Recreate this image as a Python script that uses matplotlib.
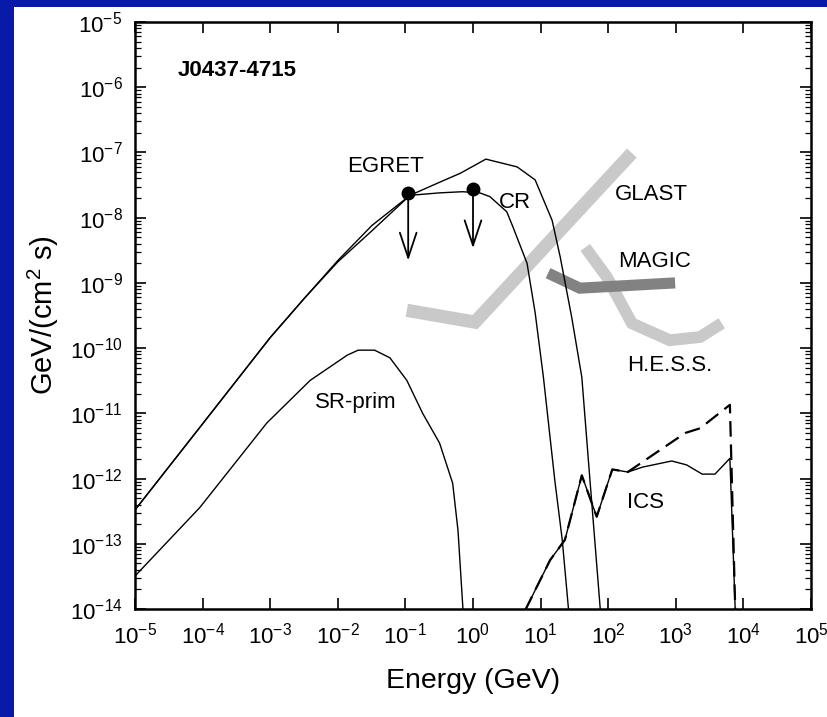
import numpy as np
import matplotlib
matplotlib.use("Agg")
import matplotlib.pyplot as plt
from matplotlib.patches import Rectangle
from matplotlib.ticker import NullLocator, FixedLocator

plt.rcParams['font.family'] = ['Liberation Sans', 'DejaVu Sans']
plt.rcParams['mathtext.fontset'] = 'custom'
plt.rcParams['mathtext.rm'] = 'Liberation Sans'
plt.rcParams['mathtext.it'] = 'Liberation Sans:italic'
plt.rcParams['mathtext.bf'] = 'Liberation Sans:bold'

# ---------------- data (GeV, GeV cm^-2 s^-1) ----------------
cr_E = [1e-5, 1e-4, 1e-3, 3.2e-3, 1e-2, 3.2e-2, 0.117, 0.32, 0.7, 1.26, 1.78,
        3.16, 3.9, 6.3, 8.3, 11.0, 16.2, 20.9, 25.7, 27.0]
cr_F = [3.3e-13, 6.9e-12, 1.45e-10, 5.8e-10, 2.2e-9, 7.6e-9, 2.2e-8, 2.4e-8,
        2.5e-8, 2.4e-8, 2.1e-8, 1.23e-8, 7.2e-9, 2.0e-9, 3.5e-10, 3.6e-11,
        9.5e-13, 1.15e-13, 1.07e-14, 5e-15]

tot_E = [1e-5, 1e-4, 1e-3, 3.2e-3, 1e-2, 3.2e-2, 0.117, 0.316, 0.65, 1.55, 4.5,
         8.3, 14.8, 19.5, 28.8, 40.7, 53.7, 75.9, 80.0]
tot_F = [3.3e-13, 6.9e-12, 1.45e-10, 5.8e-10, 2.1e-9, 6.3e-9, 2.2e-8, 3.47e-8,
         4.8e-8, 7.9e-8, 6.0e-8, 3.8e-8, 9.1e-9, 2.5e-9, 3.0e-10, 3.6e-11,
         9.5e-13, 1.07e-14, 5e-15]

srp_E = [1e-5, 9.1e-5, 8.9e-4, 3.9e-3, 1.38e-2, 2.0e-2, 3.5e-2, 5.9e-2, 0.105,
         0.18, 0.32, 0.5, 0.6, 0.71]
srp_F = [3.2e-14, 3.6e-13, 7.1e-12, 3.2e-11, 7.8e-11, 9.3e-11, 9.3e-11, 7.1e-11,
         3.2e-11, 1.0e-11, 3.5e-12, 8.5e-13, 1.6e-13, 1.0e-14]

ics_E = [5.9, 13.8, 22.9, 40.7, 67.6, 115, 195, 324, 871, 1445, 2455, 3800,
         6310, 7590]
ics_F = [9.5e-15, 5.6e-14, 1.15e-13, 1.12e-12, 2.6e-13, 1.38e-12, 1.26e-12,
         1.5e-12, 1.86e-12, 1.62e-12, 1.17e-12, 1.17e-12, 2.04e-12, 8.9e-15]

icsd_E = [5.9, 13.8, 22.9, 40.7, 67.6, 115, 195, 457, 1380, 2290, 6310, 7590]
icsd_F = [9.5e-15, 5.6e-14, 1.15e-13, 1.12e-12, 2.6e-13, 1.38e-12, 1.26e-12,
          2.3e-12, 5.0e-12, 5.9e-12, 1.35e-11, 8.9e-15]

glast_E = [0.105, 1.07, 224]
glast_F = [3.8e-10, 2.5e-10, 9.8e-8]

magic_E = [12.9, 38, 977]
magic_F = [1.41e-9, 8.3e-10, 1.0e-9]

hess_E = [45.7, 95.5, 224, 813, 2290, 4790]
hess_F = [3.5e-9, 1.23e-9, 2.4e-10, 1.32e-10, 1.48e-10, 2.4e-10]

egret_E = [0.11, 1.0]
egret_F = [2.4e-8, 2.8e-8]
egret_lim_end = [2.2e-9, 3.4e-9]

xtick_vals = [10.0 ** k for k in range(-5, 6)]
ytick_vals = [10.0 ** k for k in range(-14, -4)]
ytick_minor = [m * 10.0 ** k for k in range(-14, -5) for m in range(2, 10)]

# ---------------- figure ----------------
W, H = 828, 717
fig = plt.figure(figsize=(W / 100, H / 100), dpi=100)
fig.patch.set_facecolor('#0a1aa8')
fig.patches.append(Rectangle((14 / W, 0), 1 - 14 / W, 1 - 7 / H,
                             transform=fig.transFigure, facecolor='white',
                             edgecolor='none', zorder=-10))

ax = fig.add_axes([135 / W, 1 - 609 / H, (811 - 135) / W, (609 - 22) / H])
ax.set_zorder(5)
ax.patch.set_alpha(0)
ax.set_xscale('log')
ax.set_yscale('log')
ax.set_xlim(1e-5, 1e5)
ax.set_ylim(1e-14, 1e-5)

# instrument sensitivities
ax.plot(glast_E, glast_F, color='#c9c9c9', lw=9.5, solid_capstyle='butt',
        solid_joinstyle='miter', zorder=1)
ax.plot(hess_E, hess_F, color='#c9c9c9', lw=8.5, solid_capstyle='butt',
        solid_joinstyle='miter', zorder=1)
ax.plot(magic_E, magic_F, color='#828282', lw=8, solid_capstyle='butt',
        solid_joinstyle='miter', zorder=2)

# model curves
ax.plot(tot_E, tot_F, color='black', lw=1.0, zorder=3)
ax.plot(cr_E, cr_F, color='black', lw=1.0, zorder=3)
ax.plot(srp_E, srp_F, color='black', lw=1.0, zorder=3)
ax.plot(ics_E, ics_F, color='black', lw=1.0, zorder=3)
ax.plot(icsd_E, icsd_F, color='black', lw=1.6, dashes=(7, 3.5), zorder=3)

# EGRET upper limits
ax.plot(egret_E, egret_F, 'o', color='black', ms=9, zorder=4)
for e, f, f2 in zip(egret_E, egret_F, egret_lim_end):
    ax.annotate('', xy=(e, f2), xytext=(e, f),
                arrowprops=dict(arrowstyle='->,head_length=0.9,head_width=0.3',
                                color='black', lw=1.3, shrinkA=0, shrinkB=0,
                                mutation_scale=20), zorder=4)

# labels
fs = 16
ax.text(0.0636, 0.918, 'J0437-4715', transform=ax.transAxes, fontsize=16,
        fontweight='bold', ha='left', va='center')
ax.text(10 ** -1.287, 10 ** -7.21, 'EGRET', fontsize=fs, ha='center', va='center')
ax.text(10 ** 0.621, 10 ** -7.76, 'CR', fontsize=fs, ha='center', va='center')
ax.text(10 ** 2.633, 10 ** -7.65, 'GLAST', fontsize=fs, ha='center', va='center')
ax.text(10 ** 2.692, 10 ** -8.67, 'MAGIC', fontsize=fs, ha='center', va='center')
ax.text(10 ** 2.914, 10 ** -10.26, 'H.E.S.S.', fontsize=fs, ha='center', va='center')
ax.text(10 ** -1.73, 10 ** -10.84, 'SR-prim', fontsize=fs, ha='center', va='center')
ax.text(10 ** 2.559, 10 ** -12.36, 'ICS', fontsize=fs, ha='center', va='center')

# axes styling
ax.xaxis.set_major_locator(FixedLocator(xtick_vals))
ax.xaxis.set_minor_locator(NullLocator())
ax.yaxis.set_major_locator(FixedLocator(ytick_vals))
ax.yaxis.set_minor_locator(FixedLocator(ytick_minor))
ax.tick_params(which='major', direction='in', top=True, right=True,
               length=8, width=1.2, labelsize=16)
ax.tick_params(axis='x', which='major', pad=10)
ax.tick_params(axis='y', which='major', pad=9)
ax.tick_params(which='minor', direction='in', top=True, right=True,
               length=4, width=0.9)
for s in ax.spines.values():
    s.set_linewidth(1.8)

ax.set_xlabel('Energy (GeV)', fontsize=20.5, labelpad=14)
ax.set_ylabel('GeV/(cm$^{2}$ s)', fontsize=21, labelpad=6)

fig.savefig('out.png', dpi=100, facecolor=fig.get_facecolor())
